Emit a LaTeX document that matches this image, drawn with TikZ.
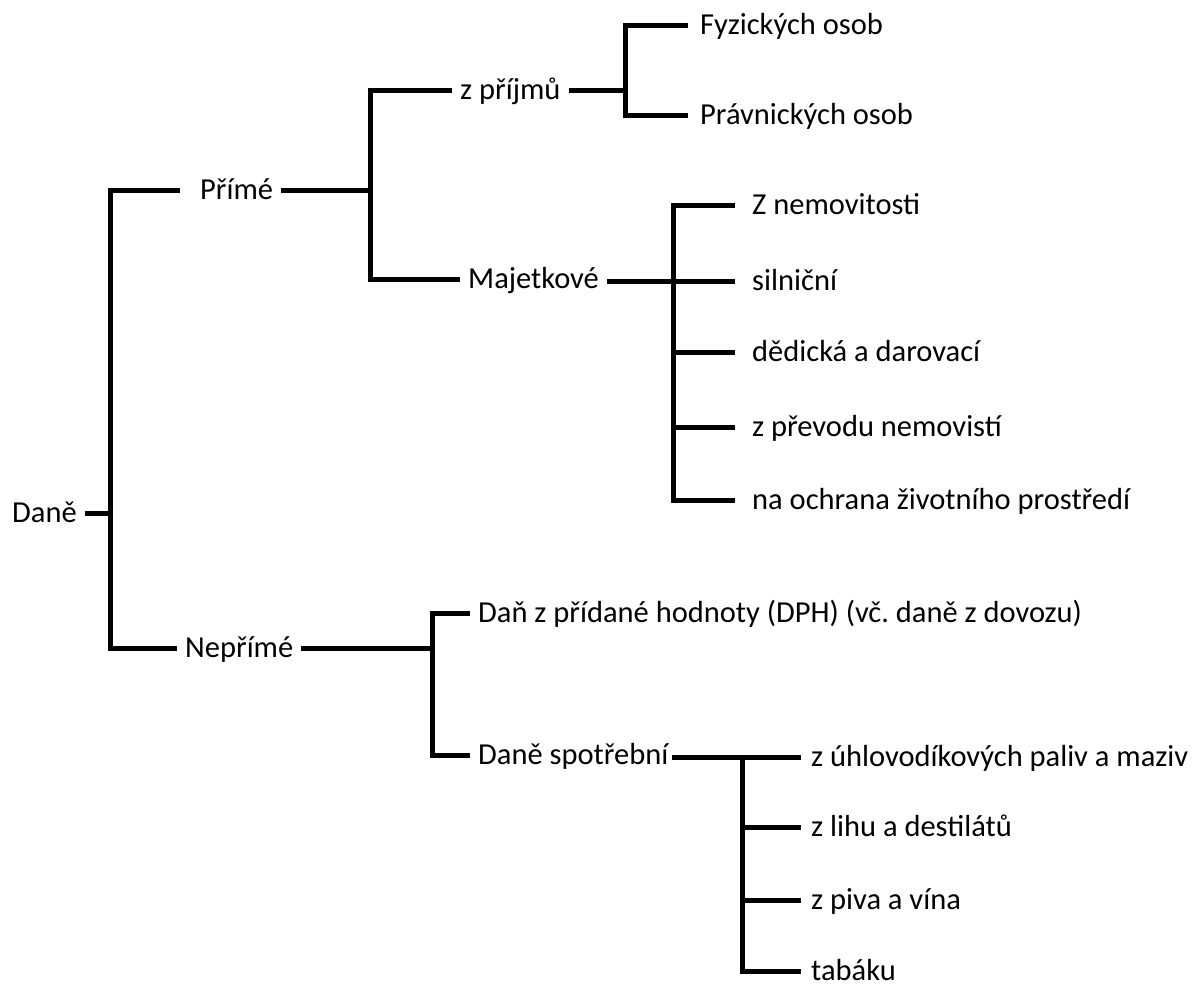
\documentclass[tikz,border=0pt]{standalone}
\usepackage{fontspec}
\setmainfont{Carlito}
\frenchspacing
\begin{document}
\begin{tikzpicture}[x=1pt,y=-1pt,
  lbl/.style={anchor=west,inner xsep=8pt,inner ysep=0pt,text height=19.2pt,text depth=0pt,font=\fontsize{30.5}{36}\selectfont,text=black},
  conn/.style={line width=5pt,line join=miter,black}]
\useasboundingbox (0,0) rectangle (1198,988);
% nodes
\node[lbl] (dane) at (4,513) {Daně};
\node[lbl] (prime) at (192,190) {Přímé};
\node[lbl] (nepr) at (177,648) {Nepřímé};
\node[lbl] (zprij) at (452,90) {z příjmů};
\node[lbl] (majet) at (460,279) {Majetkové};
\node[lbl] (fyz) at (692,25) {Fyzických osob};
\node[lbl] (prav) at (692,115) {Právnických osob};
\node[lbl] (znem) at (744,205) {Z nemovitosti};
\node[lbl] (siln) at (744,281) {silniční};
\node[lbl] (dedic) at (744,352) {dědická a darovací};
\node[lbl] (prev) at (744,427) {z převodu nemovistí};
\node[lbl] (ochr) at (744,500) {na ochrana životního prostředí};
\node[lbl] (dph) at (470,613) {Daň z přídané hodnoty (DPH) (vč. daně z dovozu)};
\node[lbl] (spotr) at (470,755) {Daně spotřební};
\node[lbl] (uhl) at (803,757) {z úhlovodíkových paliv a maziv};
\node[lbl] (lih) at (803,827) {z lihu a destilátů};
\node[lbl] (piv) at (803,900) {z piva a vína};
\node[lbl] (tab) at (803,971) {tabáku};
% junctions
\coordinate (j0) at (110,513);
\coordinate (j1) at (370,190);
\coordinate (j2) at (625,90);
\coordinate (j3) at (673,281);
\coordinate (j4) at (432,648);
\coordinate (j5) at (742,757);
% connectors
\draw[conn] (dane.east) -- (j0);
\draw[conn,shorten <=12pt] (prime.west) -| (j0) |- (nepr.west);
\draw[conn] (prime.east) -- (j1);
\draw[conn] (zprij.west) -| (j1) |- (majet.west);
\draw[conn] (zprij.east) -- (j2);
\draw[conn,shorten <=4pt,shorten >=4pt] (fyz.west) -| (j2) |- (prav.west);
\draw[conn,shorten >=9pt] (majet.east |- j3) -- (siln.west);
\draw[conn,shorten <=9pt,shorten >=9pt] (znem.west) -| (j3) |- (ochr.west);
\draw[conn,shorten >=9pt] (j3 |- dedic) -- (dedic.west);
\draw[conn,shorten >=9pt] (j3 |- prev) -- (prev.west);
\draw[conn] (nepr.east) -- (j4);
\draw[conn] (dph.west) -| (j4) |- (spotr.west);
\draw[conn,shorten <=-5pt,shorten >=2pt] (spotr.east |- j5) -- (uhl.west);
\draw[conn,shorten >=2pt] (j5) |- (tab.west);
\draw[conn,shorten >=2pt] (j5 |- lih) -- (lih.west);
\draw[conn,shorten >=2pt] (j5 |- piv) -- (piv.west);
\end{tikzpicture}
\end{document}
